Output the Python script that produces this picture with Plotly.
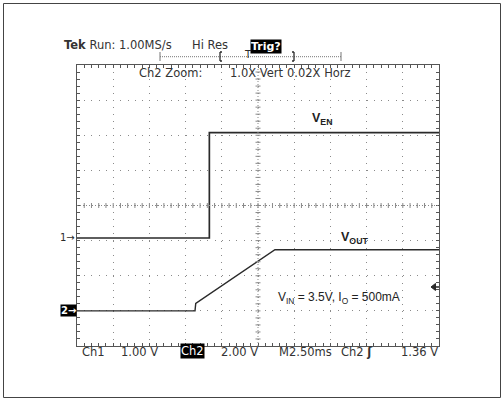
import plotly.graph_objects as go

# ---- data ----
time_ms_ven = [0.0, 9.14, 9.14, 25.0]
ven_v = [0.0, 0.0, 3.0, 3.0]
time_ms_vout = [0.0, 8.15, 8.2, 13.67, 25.0]
vout_v = [0.0, 0.0, 0.42, 3.48, 3.48]

ch1_volts_per_div = 1.0
ch2_volts_per_div = 2.0
ch1_ground_div = -0.925
ch2_ground_div = -3.0
time_per_div_ms = 2.5
trigger_level_v = 1.36

# ---- geometry ----
W, H = 504, 401
L, R, T, B = 77, 439, 65, 346
pw, ph = R - L, B - T
def px(x):
    return (x - L) / pw
def py(y):
    return (B - y) / ph

xmax = 10 * time_per_div_ms
xc = 5 * time_per_div_ms
ink = "#2a2a2a"
gridc = "#8a8a8a"

fig = go.Figure()
fig.add_trace(go.Scatter(x=time_ms_ven, y=ven_v, yaxis="y2", mode="lines",
                         line=dict(color=ink, width=1.7), hoverinfo="skip", showlegend=False))
fig.add_trace(go.Scatter(x=time_ms_vout, y=vout_v, yaxis="y3", mode="lines",
                         line=dict(color=ink, width=1.4), hoverinfo="skip", showlegend=False))

shapes = []
# centre cross (denser dotted) with ticks
shapes.append(dict(type="line", xref="x", yref="y", x0=xc, x1=xc, y0=-4, y1=4,
                   line=dict(color=gridc, width=1, dash="1px,2px")))
shapes.append(dict(type="line", xref="x", yref="y", x0=0, x1=xmax, y0=0, y1=0,
                   line=dict(color=gridc, width=1, dash="1px,2px")))
dx = 2.5 / pw * xmax
dy = 2.5 / ph * 8
for k in range(-19, 20):
    yy = k * 0.2
    shapes.append(dict(type="line", xref="x", yref="y", x0=xc - dx, x1=xc + dx, y0=yy, y1=yy,
                       line=dict(color=gridc, width=1)))
for k in range(-24, 25):
    xx = xc + k * time_per_div_ms / 5
    shapes.append(dict(type="line", xref="x", yref="y", x0=xx, x1=xx, y0=-dy, y1=dy,
                       line=dict(color=gridc, width=1)))
# top record-length ruler
ry = py(56.7)
shapes.append(dict(type="line", xref="paper", yref="paper", x0=px(160), x1=px(341), y0=ry, y1=ry,
                   line=dict(color="#777", width=1, dash="1px,1px")))
for xx in (160, 341):
    shapes.append(dict(type="line", xref="paper", yref="paper", x0=px(xx), x1=px(xx),
                       y0=py(52), y1=py(61), line=dict(color="#777", width=1)))
# bracket [ ]
for xx, d in ((220, 1), (294, -1)):
    shapes.append(dict(type="line", xref="paper", yref="paper", x0=px(xx), x1=px(xx),
                       y0=py(52), y1=py(61), line=dict(color=ink, width=1.3)))
    for yy in (52, 61):
        shapes.append(dict(type="line", xref="paper", yref="paper", x0=px(xx), x1=px(xx + 2 * d),
                           y0=py(yy), y1=py(yy), line=dict(color=ink, width=1.3)))
# outer frame
shapes.append(dict(type="rect", xref="paper", yref="paper", x0=px(3.5), x1=px(500.5), y0=py(3.5), y1=py(397.5),
                   line=dict(color="#444", width=1)))

# trigger level marker on the right edge (filled arrowhead + stem)
trig_div = ch2_ground_div + trigger_level_v / ch2_volts_per_div
trig_py = T + (4 - trig_div) / 8 * ph
shapes.append(dict(type="path", xref="paper", yref="paper",
                   path="M %f,%f L %f,%f L %f,%f Z" % (px(431), py(trig_py), px(435.5), py(trig_py - 3.5),
                                                       px(435.5), py(trig_py + 3.5)),
                   fillcolor=ink, line=dict(color=ink, width=1)))
shapes.append(dict(type="line", xref="paper", yref="paper", x0=px(435), x1=px(439),
                   y0=py(trig_py), y1=py(trig_py), line=dict(color=ink, width=1.5)))

tek = dict(family="DejaVu Sans", size=11.5, color="#333")
ann = []
def txt(text, x, y, font=None, xanchor="left", **kw):
    ann.append(dict(text=text, x=px(x), y=py(y), xref="paper", yref="paper", showarrow=False,
                    xanchor=xanchor, yanchor="middle", font=font or tek, **kw))

txt("<b>Tek</b> Run: 1.00MS/s", 62, 45)
txt("Hi Res", 190, 45)
txt("<b>Trig?</b>", 266, 46, font=dict(family="DejaVu Sans", size=11, color="white"),
    xanchor="center", bgcolor="black", borderpad=0)
txt("T", 248, 55, font=dict(family="DejaVu Sans", size=10, color=ink), xanchor="center")
txt("Ch2 Zoom:", 137, 73)
txt("1.0X Vert", 228, 73)
txt("0.02X Horz", 285, 73)
txt("Ch1", 80, 352)
txt("1.00 V", 119, 352)
txt("Ch2", 192.5, 351, font=dict(family="DejaVu Sans", size=11.5, color="white"), xanchor="center",
    bgcolor="black", borderpad=0)
txt("2.00 V", 219, 352)
txt("M2.50ms", 277, 352)
txt("Ch2 <b>\u0283</b>", 339, 352)
txt("1.36 V", 399, 352)

lab = dict(family="Liberation Sans", size=12.5, color="#222")
txt("<b>V<sub>EN</sub></b>", 310, 119, font=lab)
txt("<b>V<sub>OUT</sub></b>", 339, 238, font=lab)
txt("V<sub>IN</sub> = 3.5V, I<sub>O</sub> = 500mA", 276, 298, font=dict(family="Liberation Sans", size=12, color="#222"))

# channel ground markers
ann.append(dict(text="1\u2192", x=0, y=0.0, xref="paper", yref="y2", showarrow=False,
                xanchor="right", yanchor="middle", font=dict(family="DejaVu Sans", size=10, color=ink)))
ann.append(dict(text="<b>2\u2192</b>", x=0, y=0.0, xref="paper", yref="y3", showarrow=False,
                xanchor="right", yanchor="middle", bgcolor="black", borderpad=0,
                font=dict(family="DejaVu Sans", size=10, color="white")))

axis_common = dict(showline=True, linecolor="#555", linewidth=1, mirror="ticks", ticks="inside",
                   ticklen=3, tickcolor="#555", showticklabels=False, zeroline=False, fixedrange=True)
fig.update_layout(
    width=W, height=H, margin=dict(l=L, r=W - R, t=T, b=H - B),
    paper_bgcolor="white", plot_bgcolor="white",
    xaxis=dict(range=[0, xmax], dtick=time_per_div_ms, tick0=0, showgrid=True, gridcolor=gridc,
               griddash="1px,6.02px", minor=dict(dtick=time_per_div_ms / 5, ticks="inside", ticklen=3,
                                                 tickcolor="#555", showgrid=False), **axis_common),
    yaxis=dict(range=[-4, 4], dtick=1, tick0=0, showgrid=True, gridcolor=gridc, griddash="1px,6.24px",
               minor=dict(dtick=0.2, ticks="inside", ticklen=3, tickcolor="#555", showgrid=False),
               **axis_common),
    yaxis2=dict(overlaying="y", visible=False, fixedrange=True,
                range=[(-4 - ch1_ground_div) * ch1_volts_per_div, (4 - ch1_ground_div) * ch1_volts_per_div]),
    yaxis3=dict(overlaying="y", visible=False, fixedrange=True,
                range=[(-4 - ch2_ground_div) * ch2_volts_per_div, (4 - ch2_ground_div) * ch2_volts_per_div]),
    shapes=shapes, annotations=ann, showlegend=False,
)
fig.write_html("out.html", config=dict(displayModeBar=False),
               post_script="document.body.style.margin='0px';document.body.style.overflow='hidden';")
